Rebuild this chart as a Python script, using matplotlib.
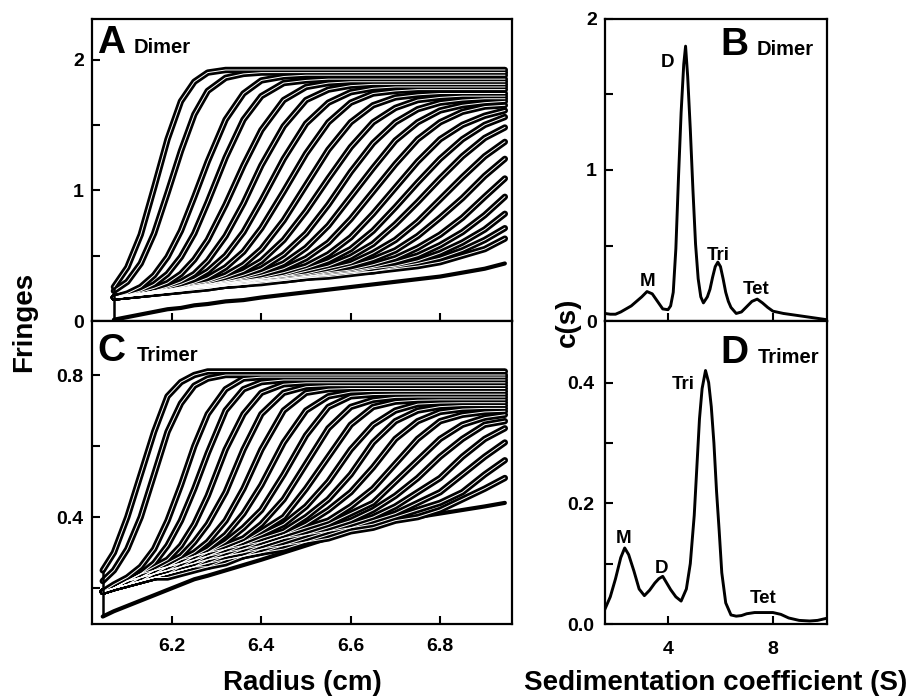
import matplotlib
matplotlib.use("Agg")
import matplotlib.pyplot as plt
from matplotlib.ticker import FixedLocator

# ---- panel A: dimer interference scans (fringes vs radius) ----
radius_a = [6.07, 6.10, 6.13, 6.16, 6.19, 6.22, 6.25, 6.28, 6.32, 6.36, 6.40,
            6.45, 6.50, 6.55, 6.60, 6.65, 6.70, 6.75, 6.80, 6.85, 6.90, 6.945]
dimer_scans = [
    [0.26, 0.41, 0.66, 1.02, 1.39, 1.68, 1.83, 1.90] + [1.92] * 14,
    [0.23, 0.30, 0.44, 0.67, 0.98, 1.30, 1.58, 1.76, 1.86, 1.89] + [1.90] * 12,
    [0.18, 0.21, 0.26, 0.35, 0.49, 0.69, 0.95, 1.22, 1.54, 1.74, 1.84, 1.87] + [1.88] * 10,
    [0.18, 0.20, 0.23, 0.28, 0.36, 0.49, 0.67, 0.91, 1.25, 1.54, 1.72, 1.82, 1.84] + [1.85] * 9,
    [0.18, 0.20, 0.22, 0.25, 0.29, 0.36, 0.47, 0.62, 0.89, 1.19, 1.46, 1.69, 1.79, 1.82] + [1.83] * 8,
    [0.18, 0.20, 0.21, 0.23, 0.26, 0.30, 0.36, 0.46, 0.65, 0.90, 1.19, 1.49, 1.69, 1.77, 1.80] + [1.81] * 7,
    [0.18, 0.20, 0.21, 0.23, 0.25, 0.28, 0.32, 0.38, 0.50, 0.68, 0.92, 1.24, 1.51, 1.67, 1.75, 1.78] + [1.79] * 6,
    [0.18, 0.20, 0.21, 0.23, 0.24, 0.26, 0.29, 0.33, 0.41, 0.53, 0.71, 0.99, 1.28, 1.52, 1.67, 1.74, 1.76] + [1.77] * 5,
    [0.18, 0.20, 0.21, 0.23, 0.24, 0.26, 0.28, 0.30, 0.35, 0.43, 0.55, 0.77, 1.04, 1.31, 1.52, 1.65, 1.71, 1.73, 1.74, 1.74, 1.74, 1.74],
    [0.18, 0.20, 0.21, 0.22, 0.24, 0.25, 0.27, 0.29, 0.33, 0.38, 0.46, 0.62, 0.84, 1.09, 1.33, 1.52, 1.63, 1.69, 1.71, 1.72, 1.72, 1.72],
    [0.18, 0.19, 0.21, 0.22, 0.24, 0.25, 0.27, 0.28, 0.31, 0.35, 0.40, 0.51, 0.67, 0.89, 1.14, 1.36, 1.52, 1.62, 1.67, 1.69, 1.70, 1.70],
    [0.18, 0.19, 0.21, 0.22, 0.24, 0.25, 0.27, 0.28, 0.30, 0.33, 0.37, 0.44, 0.56, 0.73, 0.95, 1.17, 1.38, 1.52, 1.61, 1.65, 1.67, 1.68],
    [0.18, 0.19, 0.21, 0.22, 0.24, 0.25, 0.26, 0.28, 0.30, 0.32, 0.35, 0.40, 0.48, 0.60, 0.78, 0.99, 1.20, 1.39, 1.52, 1.60, 1.64, 1.65],
    [0.18, 0.19, 0.21, 0.22, 0.23, 0.25, 0.26, 0.27, 0.29, 0.31, 0.33, 0.37, 0.42, 0.51, 0.64, 0.82, 1.02, 1.22, 1.39, 1.50, 1.57, 1.61],
    [0.18, 0.19, 0.21, 0.22, 0.23, 0.25, 0.26, 0.27, 0.29, 0.31, 0.32, 0.35, 0.40, 0.46, 0.55, 0.69, 0.87, 1.06, 1.24, 1.39, 1.50, 1.56],
    [0.18, 0.19, 0.21, 0.22, 0.23, 0.24, 0.26, 0.27, 0.29, 0.30, 0.32, 0.34, 0.38, 0.42, 0.49, 0.59, 0.74, 0.91, 1.09, 1.26, 1.40, 1.48],
    [0.18, 0.19, 0.20, 0.22, 0.23, 0.24, 0.25, 0.27, 0.28, 0.30, 0.32, 0.34, 0.36, 0.40, 0.44, 0.52, 0.62, 0.76, 0.93, 1.10, 1.26, 1.37],
    [0.18, 0.19, 0.20, 0.22, 0.23, 0.24, 0.25, 0.26, 0.28, 0.30, 0.31, 0.33, 0.35, 0.38, 0.42, 0.47, 0.54, 0.65, 0.79, 0.94, 1.11, 1.24],
    [0.18, 0.19, 0.20, 0.21, 0.23, 0.24, 0.25, 0.26, 0.28, 0.29, 0.31, 0.32, 0.34, 0.37, 0.39, 0.43, 0.48, 0.56, 0.66, 0.79, 0.95, 1.09],
    [0.18, 0.19, 0.20, 0.21, 0.22, 0.24, 0.25, 0.26, 0.27, 0.29, 0.30, 0.32, 0.34, 0.36, 0.38, 0.41, 0.45, 0.50, 0.58, 0.68, 0.81, 0.95],
    [0.18, 0.19, 0.20, 0.21, 0.22, 0.23, 0.25, 0.26, 0.27, 0.28, 0.30, 0.32, 0.34, 0.35, 0.37, 0.40, 0.42, 0.46, 0.52, 0.60, 0.70, 0.82],
    [0.18, 0.19, 0.20, 0.21, 0.22, 0.23, 0.24, 0.25, 0.27, 0.28, 0.30, 0.31, 0.33, 0.35, 0.37, 0.38, 0.41, 0.44, 0.48, 0.54, 0.62, 0.71],
    [0.18, 0.19, 0.20, 0.21, 0.22, 0.23, 0.24, 0.25, 0.27, 0.28, 0.29, 0.31, 0.33, 0.34, 0.36, 0.38, 0.40, 0.42, 0.45, 0.50, 0.55, 0.63],
]
dimer_floor = [0.01, 0.03, 0.05, 0.07, 0.09, 0.10, 0.12, 0.13, 0.15, 0.16, 0.18,
               0.20, 0.22, 0.24, 0.26, 0.28, 0.30, 0.32, 0.34, 0.37, 0.40, 0.44]

# ---- panel C: trimer interference scans ----
radius_c = [6.045, 6.07, 6.10, 6.13, 6.16, 6.19, 6.22, 6.25, 6.28, 6.32, 6.36, 6.40,
            6.45, 6.50, 6.55, 6.60, 6.65, 6.70, 6.75, 6.80, 6.85, 6.90, 6.945]
trimer_scans = [
    [0.25, 0.30, 0.40, 0.52, 0.64, 0.74, 0.78, 0.80] + [0.81] * 15,
    [0.22, 0.25, 0.31, 0.40, 0.52, 0.64, 0.72, 0.77, 0.79] + [0.80] * 14,
    [0.19, 0.21, 0.23, 0.26, 0.31, 0.39, 0.49, 0.60, 0.69, 0.76, 0.79] + [0.794] * 12,
    [0.19, 0.20, 0.22, 0.24, 0.27, 0.32, 0.39, 0.48, 0.58, 0.70, 0.76, 0.78] + [0.786] * 11,
    [0.19, 0.20, 0.22, 0.24, 0.26, 0.28, 0.32, 0.38, 0.46, 0.59, 0.69, 0.75, 0.774] + [0.778] * 10,
    [0.19, 0.20, 0.22, 0.24, 0.25, 0.27, 0.29, 0.33, 0.38, 0.47, 0.59, 0.69, 0.75, 0.767] + [0.77] * 9,
    [0.19, 0.20, 0.22, 0.23, 0.25, 0.26, 0.28, 0.30, 0.33, 0.39, 0.48, 0.59, 0.70, 0.75, 0.76] + [0.762] * 8,
    [0.19, 0.20, 0.22, 0.23, 0.25, 0.26, 0.28, 0.29, 0.31, 0.35, 0.41, 0.49, 0.61, 0.70, 0.74, 0.752] + [0.754] * 7,
    [0.19, 0.20, 0.22, 0.23, 0.25, 0.26, 0.27, 0.29, 0.30, 0.33, 0.37, 0.42, 0.52, 0.63, 0.71, 0.74, 0.745] + [0.746] * 6,
    [0.19, 0.20, 0.22, 0.23, 0.24, 0.26, 0.27, 0.29, 0.30, 0.32, 0.34, 0.38, 0.45, 0.55, 0.65, 0.71, 0.73, 0.737] + [0.738] * 5,
    [0.19, 0.20, 0.22, 0.23, 0.24, 0.26, 0.27, 0.28, 0.30, 0.31, 0.33, 0.36, 0.40, 0.48, 0.57, 0.66, 0.71, 0.725, 0.729] + [0.73] * 4,
    [0.19, 0.20, 0.21, 0.23, 0.24, 0.25, 0.27, 0.28, 0.29, 0.31, 0.33, 0.35, 0.38, 0.43, 0.50, 0.59, 0.66, 0.70, 0.718, 0.721, 0.722, 0.722, 0.722],
    [0.19, 0.20, 0.21, 0.23, 0.24, 0.25, 0.26, 0.28, 0.29, 0.31, 0.32, 0.34, 0.36, 0.40, 0.45, 0.52, 0.61, 0.67, 0.70, 0.711, 0.714, 0.714, 0.714],
    [0.19, 0.20, 0.21, 0.22, 0.24, 0.25, 0.26, 0.27, 0.29, 0.30, 0.32, 0.33, 0.35, 0.38, 0.42, 0.47, 0.54, 0.62, 0.67, 0.696, 0.704, 0.706, 0.706],
    [0.19, 0.20, 0.21, 0.22, 0.24, 0.25, 0.26, 0.27, 0.28, 0.30, 0.31, 0.33, 0.35, 0.37, 0.39, 0.43, 0.48, 0.55, 0.62, 0.67, 0.688, 0.696, 0.698],
    [0.19, 0.20, 0.21, 0.22, 0.23, 0.24, 0.26, 0.27, 0.28, 0.29, 0.31, 0.32, 0.34, 0.36, 0.38, 0.41, 0.44, 0.50, 0.56, 0.62, 0.66, 0.68, 0.688],
    [0.19, 0.20, 0.21, 0.22, 0.23, 0.24, 0.25, 0.26, 0.28, 0.29, 0.30, 0.32, 0.34, 0.35, 0.37, 0.39, 0.42, 0.46, 0.51, 0.57, 0.62, 0.66, 0.67],
    [0.19, 0.20, 0.21, 0.22, 0.23, 0.24, 0.25, 0.26, 0.27, 0.29, 0.30, 0.31, 0.33, 0.35, 0.36, 0.38, 0.40, 0.43, 0.47, 0.51, 0.57, 0.62, 0.65],
    [0.19, 0.20, 0.21, 0.22, 0.23, 0.24, 0.25, 0.26, 0.27, 0.28, 0.29, 0.31, 0.32, 0.34, 0.36, 0.37, 0.39, 0.41, 0.44, 0.47, 0.52, 0.57, 0.61],
    [0.19, 0.20, 0.21, 0.22, 0.23, 0.24, 0.25, 0.26, 0.26, 0.28, 0.29, 0.30, 0.32, 0.33, 0.35, 0.37, 0.38, 0.40, 0.42, 0.44, 0.47, 0.52, 0.56],
    [0.19, 0.20, 0.21, 0.22, 0.23, 0.23, 0.24, 0.25, 0.26, 0.27, 0.29, 0.30, 0.31, 0.33, 0.34, 0.36, 0.37, 0.39, 0.40, 0.42, 0.45, 0.48, 0.51],
]
trimer_floor = [0.12, 0.135, 0.15, 0.165, 0.18, 0.195, 0.21, 0.225, 0.235, 0.25, 0.265, 0.28,
                0.30, 0.32, 0.34, 0.36, 0.375, 0.39, 0.40, 0.41, 0.42, 0.43, 0.44]

# ---- panel B: dimer c(s) ----
s_dimer = [1.6, 1.8, 2.0, 2.2, 2.4, 2.6, 2.8, 3.0, 3.2, 3.4, 3.6, 3.8, 4.0, 4.1, 4.2,
           4.3, 4.4, 4.5, 4.6, 4.67, 4.75, 4.85, 4.95, 5.05, 5.15, 5.25, 5.35, 5.5,
           5.6, 5.7, 5.8, 5.9, 6.0, 6.1, 6.2, 6.3, 6.4, 6.6, 6.8, 7.0, 7.2, 7.4, 7.6,
           7.8, 8.0, 8.4, 8.8, 9.2, 9.6, 10.0]
cs_dimer = [0.05, 0.045, 0.045, 0.06, 0.08, 0.10, 0.13, 0.16, 0.195, 0.18, 0.13, 0.08,
            0.075, 0.10, 0.19, 0.48, 0.95, 1.38, 1.70, 1.82, 1.62, 1.27, 0.87, 0.51,
            0.28, 0.16, 0.12, 0.16, 0.21, 0.29, 0.36, 0.39, 0.36, 0.28, 0.19, 0.13,
            0.09, 0.05, 0.06, 0.095, 0.13, 0.145, 0.12, 0.09, 0.065, 0.05, 0.04,
            0.03, 0.02, 0.01]
peaks_dimer = ["M", "D", "Tri", "Tet"]
peaks_dimer_s = [3.23, 3.99, 5.92, 7.35]
peaks_dimer_c = [0.232, 1.68, 0.404, 0.179]

# ---- panel D: trimer c(s) ----
s_trimer = [1.6, 1.8, 2.0, 2.2, 2.35, 2.5, 2.7, 2.9, 3.1, 3.3, 3.5, 3.65, 3.8, 3.95,
            4.1, 4.3, 4.5, 4.7, 4.85, 5.0, 5.1, 5.2, 5.3, 5.43, 5.55, 5.65, 5.75,
            5.85, 5.95, 6.05, 6.2, 6.4, 6.6, 6.8, 7.0, 7.3, 7.6, 8.0, 8.3, 8.6, 9.0,
            9.4, 9.7, 10.0]
cs_trimer = [0.025, 0.045, 0.075, 0.11, 0.126, 0.115, 0.088, 0.058, 0.047, 0.056,
             0.068, 0.075, 0.079, 0.068, 0.057, 0.045, 0.038, 0.058, 0.10, 0.18,
             0.26, 0.34, 0.39, 0.42, 0.40, 0.36, 0.30, 0.22, 0.155, 0.085, 0.035,
             0.015, 0.013, 0.014, 0.017, 0.019, 0.019, 0.019, 0.016, 0.010, 0.006,
             0.005, 0.006, 0.009]
peaks_trimer = ["M", "D", "Tri", "Tet"]
peaks_trimer_s = [2.32, 3.76, 4.58, 7.63]
peaks_trimer_c = [0.135, 0.085, 0.39, 0.035]

# ---- ticks ----
radius_ticks = [6.2, 6.4, 6.6, 6.8]
radius_labels = ["6.2", "6.4", "6.6", "6.8"]
s_ticks = [4, 8]
s_labels = ["4", "8"]


def style_axes(ax):
    for spine in ax.spines.values():
        spine.set_linewidth(1.6)
    ax.tick_params(which="both", direction="in", width=1.5, length=6,
                   top=False, right=False, labelsize=14)


def draw_scans(ax, radius, scans, floor):
    # thick black data band, thin white fit line on top
    for row in scans:
        ax.plot(radius, row, color="black", lw=4.6,
                solid_capstyle="round", solid_joinstyle="round")
    ax.plot(radius, floor, color="black", lw=3.0, solid_capstyle="round")
    for row in scans:
        ax.plot(radius, row, color="white", lw=0.7, solid_joinstyle="round")
    ax.vlines(radius[0], floor[0], scans[0][0], color="black", lw=1.8)


def main():
    plt.rcParams["font.family"] = ["Liberation Sans", "DejaVu Sans"]
    plt.rcParams["font.weight"] = "bold"

    fig = plt.figure(figsize=(9.12, 6.98), dpi=100)
    ax_a = fig.add_axes([0.1009, 0.5401, 0.4605, 0.4327])
    ax_c = fig.add_axes([0.1009, 0.1060, 0.4605, 0.4341])
    ax_b = fig.add_axes([0.6634, 0.5401, 0.2434, 0.4327])
    ax_d = fig.add_axes([0.6634, 0.1060, 0.2434, 0.4341])

    # A
    draw_scans(ax_a, radius_a, dimer_scans, dimer_floor)
    ax_a.set_xlim(6.021, 6.961)
    ax_a.set_ylim(0, 2.31)
    ax_a.set_yticks([0, 1, 2])
    ax_a.set_yticklabels(["0", "1", "2"])
    ax_a.yaxis.set_minor_locator(FixedLocator([0.5, 1.5]))
    ax_a.set_xticks(radius_ticks)
    ax_a.set_xticklabels([])
    ax_a.text(0.012, 0.887, "A", transform=ax_a.transAxes, fontsize=28,
              ha="left", va="baseline")
    ax_a.text(0.098, 0.887, "Dimer", transform=ax_a.transAxes, fontsize=14.5,
              ha="left", va="baseline")

    # C
    draw_scans(ax_c, radius_c, trimer_scans, trimer_floor)
    ax_c.set_xlim(6.021, 6.961)
    ax_c.set_ylim(0.099, 0.952)
    ax_c.set_yticks([0.4, 0.8])
    ax_c.set_yticklabels(["0.4", "0.8"])
    ax_c.yaxis.set_minor_locator(FixedLocator([0.2, 0.6]))
    ax_c.set_xticks(radius_ticks)
    ax_c.set_xticklabels(radius_labels)
    ax_c.text(0.012, 0.869, "C", transform=ax_c.transAxes, fontsize=28,
              ha="left", va="baseline")
    ax_c.text(0.107, 0.869, "Trimer", transform=ax_c.transAxes, fontsize=14.5,
              ha="left", va="baseline")

    # B
    ax_b.plot(s_dimer, cs_dimer, color="black", lw=2.1)
    ax_b.set_xlim(1.6, 10.06)
    ax_b.set_ylim(0, 2)
    ax_b.set_yticks([0, 1, 2])
    ax_b.set_yticklabels(["0", "1", "2"])
    ax_b.yaxis.set_minor_locator(FixedLocator([0.5, 1.5]))
    ax_b.set_xticks(s_ticks)
    ax_b.set_xticklabels([])
    for name, x, y in zip(peaks_dimer, peaks_dimer_s, peaks_dimer_c):
        ax_b.text(x, y, name, fontsize=13.5, ha="center", va="baseline")
    ax_b.text(0.521, 0.881, "B", transform=ax_b.transAxes, fontsize=28,
              ha="left", va="baseline")
    ax_b.text(0.683, 0.881, "Dimer", transform=ax_b.transAxes, fontsize=14.5,
              ha="left", va="baseline")

    # D
    ax_d.plot(s_trimer, cs_trimer, color="black", lw=2.1)
    ax_d.set_xlim(1.6, 10.06)
    ax_d.set_ylim(0, 0.502)
    ax_d.set_yticks([0.0, 0.2, 0.4])
    ax_d.set_yticklabels(["0.0", "0.2", "0.4"])
    ax_d.yaxis.set_minor_locator(FixedLocator([0.1, 0.3]))
    ax_d.set_xticks(s_ticks)
    ax_d.set_xticklabels(s_labels)
    for name, x, y in zip(peaks_trimer, peaks_trimer_s, peaks_trimer_c):
        ax_d.text(x, y, name, fontsize=13.5, ha="center", va="baseline")
    ax_d.text(0.518, 0.862, "D", transform=ax_d.transAxes, fontsize=28,
              ha="left", va="baseline")
    ax_d.text(0.689, 0.862, "Trimer", transform=ax_d.transAxes, fontsize=14.5,
              ha="left", va="baseline")

    for ax in (ax_a, ax_b, ax_c, ax_d):
        style_axes(ax)
    ax_c.tick_params(axis="x", pad=10)
    ax_d.tick_params(axis="x", pad=12)
    for ax in (ax_a, ax_c, ax_b):
        ax.tick_params(axis="y", pad=6)
    ax_d.tick_params(axis="y", pad=8)

    fig.text(24 / 912, 1 - 322 / 698, "Fringes", rotation=90, fontsize=20,
             ha="center", va="center")
    fig.text(568 / 912, 1 - 322 / 698, "c(s)", rotation=90, fontsize=20,
             ha="center", va="center")
    fig.text(302 / 912, 1 - 683 / 698, "Radius (cm)", fontsize=20,
             ha="center", va="center")
    fig.text(716 / 912, 1 - 683 / 698, "Sedimentation coefficient (S)",
             fontsize=20, ha="center", va="center")

    fig.savefig("out.png", dpi=100)


if __name__ == "__main__":
    main()
